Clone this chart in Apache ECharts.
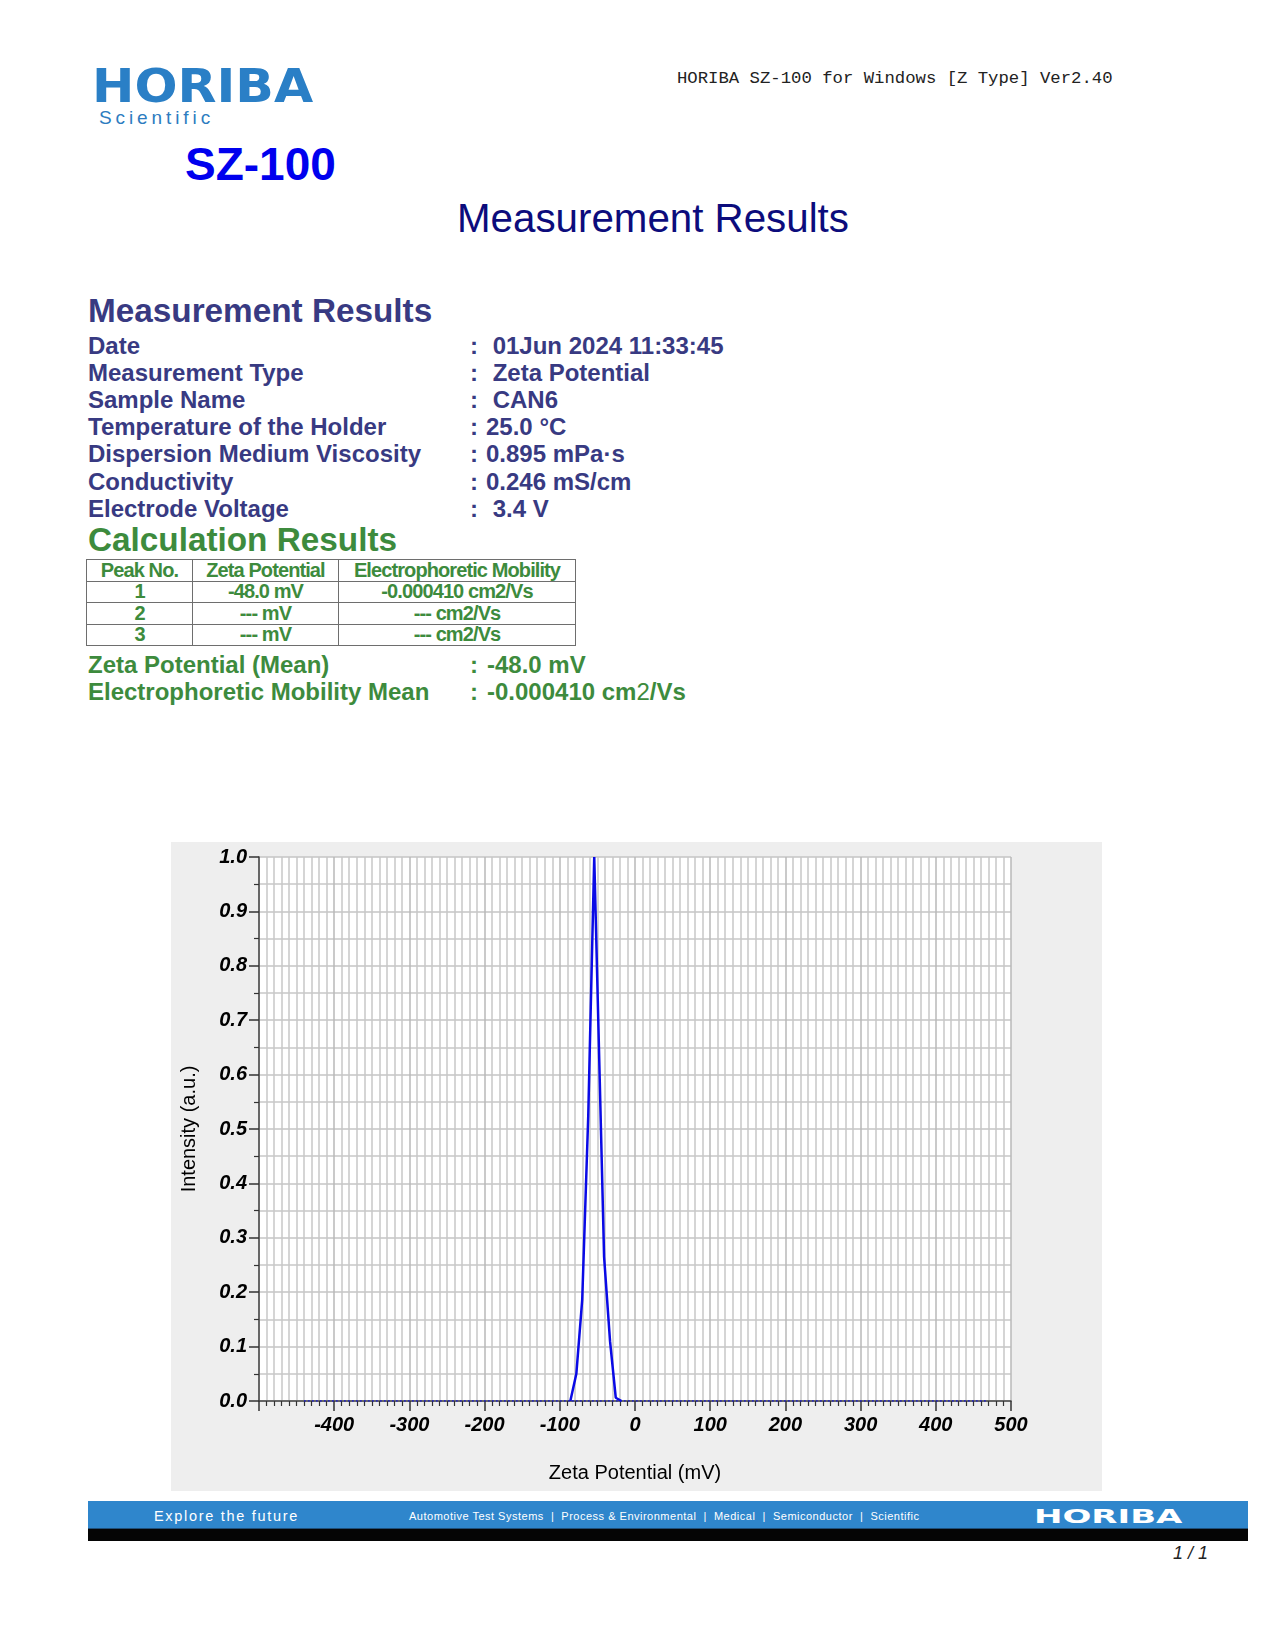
<!DOCTYPE html>
<html><head><meta charset="utf-8">
<script src="https://cdn.jsdelivr.net/npm/echarts@6/dist/echarts.min.js"></script>
<style>
body{margin:0;background:#fff;}
#page{position:relative;width:1275px;height:1650px;overflow:hidden;font-family:"Liberation Sans",Arial,sans-serif;}
.t{position:absolute;white-space:pre;}
table.calc{position:absolute;left:86px;top:559px;border-collapse:collapse;table-layout:fixed;}
table.calc td{border:1.5px solid #6e6e6e;height:20.5px;padding:0;text-align:center;color:#3d8b3d;font-weight:bold;font-size:20px;line-height:19px;letter-spacing:-0.9px;white-space:pre;}
</style></head><body>
<div id="page">
  <div id="chart" style="position:absolute;left:171px;top:842px;width:931px;height:649px;background:#eeeeee"></div>
</div>
<script>
// ---------- report texts ----------
const headerText = "HORIBA SZ-100 for Windows [Z Type] Ver2.40";
const measLabels = ["Date","Measurement Type","Sample Name","Temperature of the Holder","Dispersion Medium Viscosity","Conductivity","Electrode Voltage"];
const measValues = [" 01Jun 2024 11:33:45"," Zeta Potential"," CAN6","25.0 \u00B0C","0.895 mPa\u00B7s","0.246 mS/cm"," 3.4 V"];
const tableHeader = ["Peak No.","Zeta Potential","Electrophoretic Mobility"];
const peakNo = ["1","2","3"];
const peakZeta = ["-48.0 mV","--- mV","--- mV"];
const peakMobility = ["-0.000410 cm2/Vs","--- cm2/Vs","--- cm2/Vs"];
const meanLabels = ["Zeta Potential (Mean)","Electrophoretic Mobility Mean"];
const meanValues = ["-48.0 mV","-0.000410 cm|2|/Vs"];
const footerSectors = ["Automotive Test Systems","Process & Environmental","Medical","Semiconductor","Scientific"];

// ---------- chart data ----------
const xTickLabels = ["-400","-300","-200","-100","0","100","200","300","400","500"];
const yTickLabels = ["0.0","0.1","0.2","0.3","0.4","0.5","0.6","0.7","0.8","0.9","1.0"];
const peakX = [-86, -78, -70.2, -62.2, -54.2, -48.6, -41.1, -33.2, -25.6, -18];
const peakY = [0, 0.05, 0.186, 0.523, 1.0, 0.686, 0.265, 0.11, 0.006, 0];
const baseX = [-440, 468];
const baseY = [0, 0];

// ---------- layout helpers ----------
const page = document.getElementById('page');
function txt(s, x, cy, size, opts) {
  opts = opts || {};
  const d = document.createElement('div');
  d.className = 't';
  const h = Math.round(size * 1.2);
  d.style.left = x + 'px';
  d.style.top = (cy - h / 2) + 'px';
  d.style.height = h + 'px';
  d.style.lineHeight = h + 'px';
  d.style.fontSize = size + 'px';
  if (opts.html) d.innerHTML = s; else d.textContent = s;
  if (opts.color) d.style.color = opts.color;
  if (opts.weight) d.style.fontWeight = opts.weight;
  if (opts.style) d.style.fontStyle = opts.style;
  if (opts.family) d.style.fontFamily = opts.family;
  if (opts.ls) d.style.letterSpacing = opts.ls;
  if (opts.sx) { d.style.transform = 'scaleX(' + opts.sx + ')'; d.style.transformOrigin = 'left center'; }
  if (opts.center) { d.style.transform = 'translateX(-50%)'; }
  if (opts.right) { d.style.left = 'auto'; d.style.right = (1275 - x) + 'px'; }
  page.appendChild(d);
  return d;
}

// header
txt("HORIBA", 92, 86, 47, {color:'#2a7fc6', weight:'bold', family:'"DejaVu Sans",sans-serif', sx:1.078});
txt("Scientific", 99, 117, 19, {color:'#2d7cc0', ls:'3.9px'});
txt("SZ-100", 185, 164, 46, {color:'#0000ee', weight:'bold'});
txt(headerText, 677, 78, 17.3, {color:'#222', family:'"Liberation Mono",monospace'});
txt("Measurement Results", 653, 219, 40.3, {color:'#0c0c7c', center:true});

// measurement results
const navy = '#383a82';
txt("Measurement Results", 88, 311, 33.3, {color:navy, weight:'bold'});
measLabels.forEach((l, i) => {
  const cy = 345 + i * 27.2;
  txt(l, 88, cy, 24, {color:navy, weight:'bold'});
  txt(":", 470, cy, 24, {color:navy, weight:'bold'});
  txt(measValues[i], 486, cy, 24, {color:navy, weight:'bold'});
});

// calculation results
const green = '#3d8b3d';
txt("Calculation Results", 88, 540, 33.3, {color:green, weight:'bold'});
const tbl = document.createElement('table');
tbl.className = 'calc';
const colW = [106, 146, 237];
let html = '<colgroup>' + colW.map(w => '<col style="width:' + w + 'px">').join('') + '</colgroup>';
html += '<tr>' + tableHeader.map(h => '<td>' + h + '</td>').join('') + '</tr>';
peakNo.forEach((p, i) => {
  html += '<tr><td>' + p + '</td><td>' + peakZeta[i] + '</td><td>' + peakMobility[i] + '</td></tr>';
});
tbl.innerHTML = html;
page.appendChild(tbl);

meanLabels.forEach((l, i) => {
  const cy = 664 + i * 27;
  txt(l, 88, cy, 24, {color:green, weight:'bold'});
  txt(":", 470, cy, 24, {color:green, weight:'bold'});
  const v = meanValues[i].split('|');
  const vh = v.length > 1 ? v[0] + '<span style="font-weight:normal">' + v[1] + '</span>' + v[2] : v[0];
  txt(vh, 487, cy, 24, {color:green, weight:'bold', html:true});
});

// footer
const band = document.createElement('div');
band.style.cssText = 'position:absolute;left:88px;top:1501px;width:1160px;height:27px;background:#2f86cc;';
page.appendChild(band);
const band2 = document.createElement('div');
band2.style.cssText = 'position:absolute;left:88px;top:1528px;width:1160px;height:12px;background:#050505;border-top:1px solid #1f4f7a;';
page.appendChild(band2);
txt("Explore the future", 154, 1516, 14.5, {color:'#fff', ls:'1.7px'});
txt(footerSectors.join('  |  '), 409, 1516, 11, {color:'#fff', ls:'0.5px'});
txt("HORIBA", 1034, 1516, 20, {color:'#fff', weight:'bold', family:'"DejaVu Sans",sans-serif', sx:1.7});
txt("1 / 1", 1208, 1553, 18, {color:'#222', style:'italic', right:true});

// ---------- chart ----------
const chart = echarts.init(document.getElementById('chart'), null, {renderer:'canvas'});
const labelFont = {fontFamily:'"Liberation Sans",Arial,sans-serif', fontWeight:'bold', fontStyle:'italic', fontSize:20, color:'#000'};
chart.setOption({
  animation: false,
  backgroundColor: '#eeeeee',
  grid: {left:87, right:91, top:15, bottom:90, show:true, backgroundColor:'#ffffff', borderWidth:0},
  xAxis: {
    type:'value', min:-500, max:500, interval:100,
    name:'Zeta Potential (mV)', nameLocation:'middle', nameGap:62,
    nameTextStyle:{fontFamily:'"Liberation Sans",Arial,sans-serif', fontSize:20, color:'#000'},
    axisLine:{show:true, onZero:false, lineStyle:{color:'#444', width:1.5}},
    axisTick:{show:true, inside:false, length:10, lineStyle:{color:'#333', width:1.5}},
    minorTick:{show:true, splitNumber:10, length:5, lineStyle:{color:'#333', width:1.2}},
    splitLine:{show:true, lineStyle:{color:'#b8b8b8', width:1.5}},
    minorSplitLine:{show:true, lineStyle:{color:'#c8c8c8', width:1.5}},
    axisLabel:Object.assign({margin:14, formatter: v => xTickLabels.includes(String(Math.round(v))) ? String(Math.round(v)) : ''}, labelFont)
  },
  yAxis: {
    type:'value', min:0, max:1, interval:0.1,
    name:'Intensity (a.u.)', nameLocation:'middle', nameGap:60, nameRotate:90,
    nameTextStyle:{fontFamily:'"Liberation Sans",Arial,sans-serif', fontSize:20, color:'#000'},
    axisLine:{show:true, onZero:false, lineStyle:{color:'#444', width:1.5}},
    axisTick:{show:true, inside:false, length:10, lineStyle:{color:'#333', width:1.5}},
    minorTick:{show:true, splitNumber:2, length:5, lineStyle:{color:'#333', width:1.2}},
    splitLine:{show:true, lineStyle:{color:'#c4c4c4', width:1.5}},
    minorSplitLine:{show:true, lineStyle:{color:'#c8c8c8', width:1.5}},
    axisLabel:Object.assign({margin:12, formatter: v => yTickLabels[Math.round(v * 10)] || ''}, labelFont)
  },
  series: [
    {type:'line', data: baseX.map((x, i) => [x, baseY[i]]), symbol:'none', silent:true, z:3,
     lineStyle:{color:'#1010e0', width:1.5, type:[1.5, 2.5]}},
    {type:'line', data: peakX.map((x, i) => [x, peakY[i]]), symbol:'none', silent:true, z:4,
     lineStyle:{color:'#0a0ae6', width:2.5}}
  ]
});
</script>
</body></html>
